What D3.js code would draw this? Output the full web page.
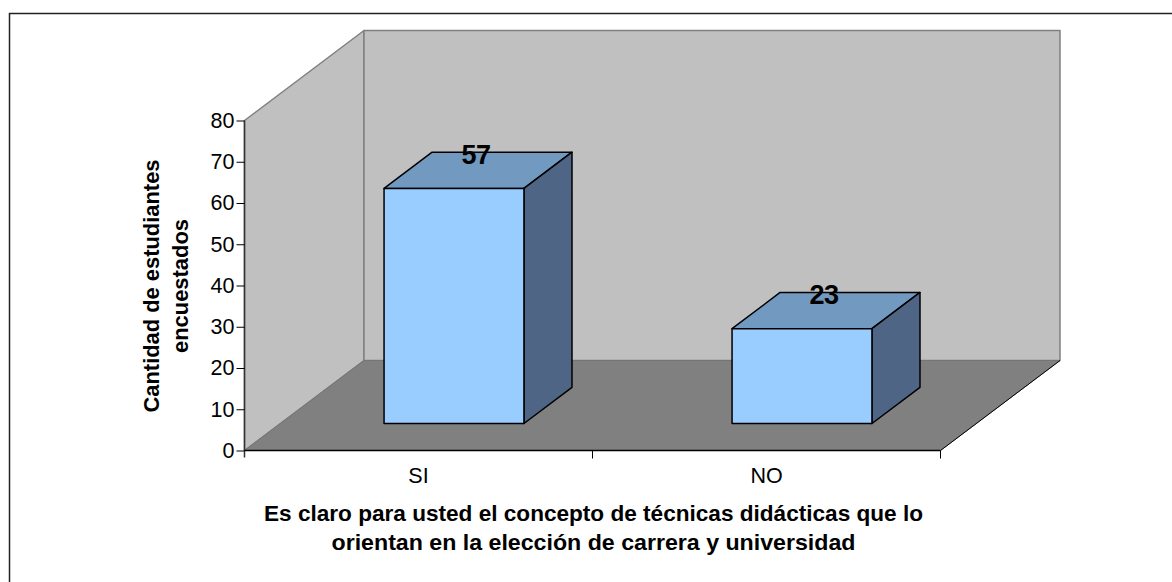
<!DOCTYPE html>
<html><head><meta charset="utf-8">
<script src="https://cdn.jsdelivr.net/npm/d3@7"></script>
<style>html,body{margin:0;padding:0;background:#fff}svg{display:block}text{font-family:"Liberation Sans",Arial,sans-serif;fill:#000}</style>
</head><body><svg id="c" width="1172" height="582"></svg>
<script>
const categories = ["SI","NO"];
const values = [57,23];
const yTicks = [0,10,20,30,40,50,60,70,80];
const yTitle = ["Cantidad de estudiantes","encuestados"];
const xTitle = ["Es claro para usted el concepto de técnicas didácticas que lo","orientan en la elección de carrera y universidad"];

const svg = d3.select("#c");
svg.append("path").attr("d","M9.5,582V13.5H1172").attr("fill","none").attr("stroke","#222").attr("stroke-width",1.5);

const x = d3.scaleBand().domain(categories).range([244.5,940.5]);
const y = d3.scaleLinear().domain([0,80]).range([450.5,120.5]);
const D = {x:119.5,y:-90};
const poly = (pts,fill,stroke,w)=>svg.append("polygon").attr("points",pts.map(p=>p.join(",")).join(" ")).attr("fill",fill).attr("stroke",stroke).attr("stroke-width",w).attr("stroke-linejoin","round");
const x0=x.range()[0], x1=x.range()[1], y0=y(0), yT=y(80);
// walls
poly([[x0,y0],[x0,yT],[x0+D.x,yT+D.y],[x0+D.x,y0+D.y]],"#c0c0c0","#808080",1.5);
poly([[x0+D.x,y0+D.y],[x0+D.x,yT+D.y],[x1+D.x,yT+D.y],[x1+D.x,y0+D.y]],"#c0c0c0","#808080",1.5);
// floor
poly([[x0,y0],[x1,y0],[x1+D.x,y0+D.y],[x0+D.x,y0+D.y]],"#808080","#757575",1);
svg.append("line").attr("x1",x1).attr("y1",y0).attr("x2",x1+D.x).attr("y2",y0+D.y).attr("stroke","#000");

// bars
const barF = 0.402, gap = 0.298, dF = 0.402, off = 0.3;
const bw = x.bandwidth()*barF;
const bx = d=>x(d)+x.bandwidth()*gap+off*D.x;
const base = y0+off*D.y;
const h = v=>y0-y(v);
categories.forEach((c,i)=>{
  const l=bx(c), r=l+bw, t=base-h(values[i]), dx=dF*D.x, dy=dF*D.y;
  poly([[l,t],[r,t],[r+dx,t+dy],[l+dx,t+dy]],"#7299bf","#000",1.5);
  poly([[r,t],[r+dx,t+dy],[r+dx,base+dy],[r,base]],"#4f6585","#000",1.5);
  poly([[l,t],[r,t],[r,base],[l,base]],"#99ccff","#000",1.5);
  svg.append("text").attr("x",l+bw/2+dx/2-2).attr("y",t+dy+12).attr("text-anchor","middle")
    .attr("font-size",27).attr("font-weight","bold").attr("letter-spacing",-0.5).text(values[i]);
});

// axes
const yAxis = d3.axisLeft(y).tickValues(yTicks).tickSize(8).tickPadding(2);
const ga = svg.append("g").attr("transform",`translate(${x0},0)`).call(yAxis);
ga.select(".domain").attr("stroke","#333").attr("stroke-width",1.5).attr("d",`M0,${yT}V${y0+7}`);
ga.selectAll("line").attr("stroke","#000");
ga.selectAll("text").attr("font-size",21.5).attr("font-family","Liberation Sans");
const gx = svg.append("g");
gx.append("line").attr("x1",x0).attr("x2",x1).attr("y1",y0).attr("y2",y0).attr("stroke","#000").attr("stroke-width",1.5);
categories.forEach(c=>gx.append("line").attr("x1",x(c)+x.bandwidth()).attr("x2",x(c)+x.bandwidth()).attr("y1",y0).attr("y2",y0+8).attr("stroke","#000"));
categories.forEach(c=>gx.append("text").attr("x",x(c)+x.bandwidth()/2).attr("y",483).attr("text-anchor","middle").attr("font-size",21.5).text(c));

// titles
const yLen=[253,134], xLen=[659,524];
yTitle.forEach((t,i)=>svg.append("text").attr("transform",`translate(${159+i*29},286) rotate(-90)`).attr("text-anchor","middle").attr("font-size",22).attr("font-weight","bold").attr("textLength",yLen[i]).attr("lengthAdjust","spacingAndGlyphs").text(t));
xTitle.forEach((t,i)=>svg.append("text").attr("x",593.5).attr("y",520.5+i*29).attr("text-anchor","middle").attr("font-size",22.8).attr("font-weight","bold").attr("textLength",xLen[i]).attr("lengthAdjust","spacingAndGlyphs").text(t));
</script></body></html>
